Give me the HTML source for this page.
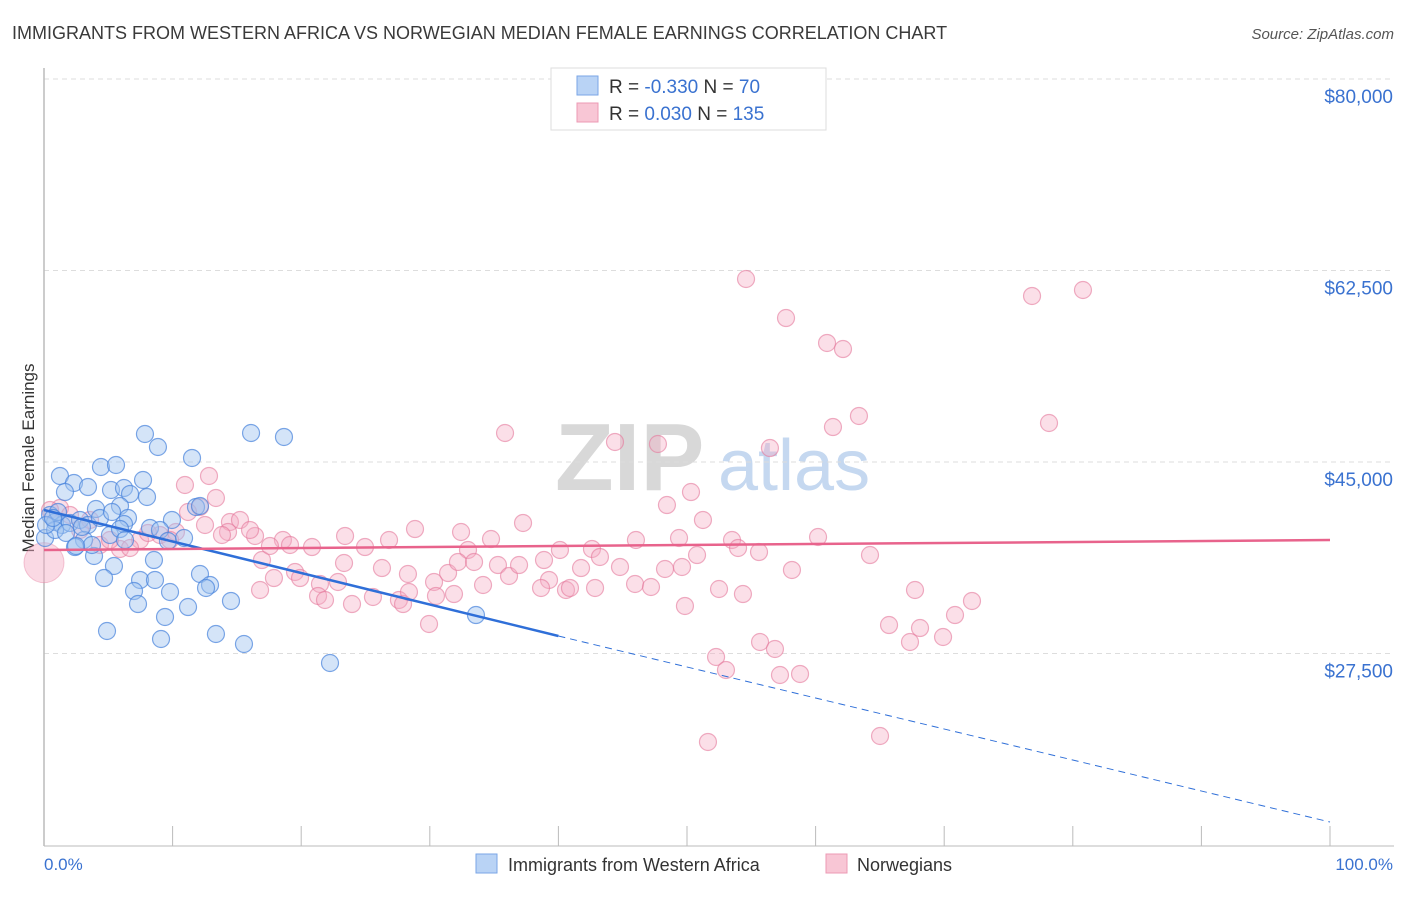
<!DOCTYPE html>
<html><head><meta charset="utf-8"><style>
body{margin:0;background:#fff;font-family:"Liberation Sans",sans-serif}
svg text{font-family:"Liberation Sans",sans-serif}
</style></head><body>
<svg id="chart" width="1406" height="892" xmlns="http://www.w3.org/2000/svg">
<text x="12" y="39" font-size="18" fill="#3a3a3a">IMMIGRANTS FROM WESTERN AFRICA VS NORWEGIAN MEDIAN FEMALE EARNINGS CORRELATION CHART</text>
<text x="1394" y="39" font-size="15" fill="#555" text-anchor="end" font-style="italic">Source: ZipAtlas.com</text>
<text x="555" y="490" font-size="96" fill="#d8d8d8" font-family="Liberation Serif" font-weight="bold">ZIP</text>
<text x="718" y="490" font-size="72" fill="#c5d8f0">atlas</text>
<g id="grid"></g>
<g id="ticks"></g>
<line x1="44" y1="68" x2="44" y2="846" stroke="#bbb" stroke-width="1.5"/>
<line x1="44" y1="846" x2="1394" y2="846" stroke="#bbb" stroke-width="1"/>
<text transform="translate(34,458) rotate(-90)" font-size="17" fill="#333" text-anchor="middle">Median Female Earnings</text>
<text x="44" y="870" font-size="17" fill="#3a72d0">0.0%</text>
<text x="1393" y="870" font-size="17" fill="#3a72d0" text-anchor="end">100.0%</text>
<g id="pink"></g>
<g id="blue"></g>
<g id="trends"></g>
<g>
<rect x="551" y="68" width="275" height="62" fill="#fff" stroke="#ddd"/>
<rect x="577" y="76" width="21" height="19" fill="#b9d3f5" stroke="#7aa6e6"/>
<rect x="577" y="103" width="21" height="19" fill="#f8c6d5" stroke="#ec9ab4"/>
<text x="609" y="93" font-size="19" fill="#333">R = <tspan fill="#3a72d0">-0.330</tspan>   N = <tspan fill="#3a72d0"> 70</tspan></text>
<text x="609" y="120" font-size="19" fill="#333">R = <tspan fill="#3a72d0"> 0.030</tspan>   N = <tspan fill="#3a72d0">135</tspan></text>
</g>
<g>
<rect x="476" y="854" width="21" height="19" fill="#b9d3f5" stroke="#7aa6e6"/>
<text x="508" y="871" font-size="18" fill="#333">Immigrants from Western Africa</text>
<rect x="826" y="854" width="21" height="19" fill="#f8c6d5" stroke="#ec9ab4"/>
<text x="857" y="871" font-size="18" fill="#333">Norwegians</text>
</g>
</svg>
<script>
const yTicks=[80000,62500,45000,27500];
const yTickLabels=["$80,000","$62,500","$45,000","$27,500"];
const xTicks=[0,10,20,30,40,50,60,70,80,90,100];
const bluePx=[[145,434],[158,447],[251,433],[284,437],[192,458],[101,467],[116,465],[60,476],[74,483],[88,487],[143,480],[111,490],[124,488],[130,494],[147,497],[65,492],[96,509],[120,506],[128,518],[172,520],[196,507],[50,515],[55,522],[62,525],[70,523],[80,520],[88,525],[100,518],[124,524],[150,528],[160,530],[168,541],[184,538],[110,535],[84,540],[94,556],[114,566],[154,560],[104,578],[140,580],[155,580],[200,574],[210,585],[134,591],[170,592],[138,604],[188,607],[231,601],[165,617],[107,631],[161,639],[216,634],[244,644],[330,663],[476,615],[200,506],[45,538],[55,530],[75,547],[92,545],[46,525],[58,512],[66,533],[53,518],[82,527],[76,546],[120,529],[112,512],[125,540],[206,588]];
const pinkPx=[[746,279],[786,318],[1032,296],[1083,290],[827,343],[843,349],[859,416],[833,427],[1049,423],[770,448],[505,433],[615,442],[658,444],[691,492],[667,505],[703,520],[523,523],[415,529],[209,476],[216,498],[200,507],[185,485],[188,512],[230,522],[240,520],[255,536],[262,560],[283,540],[312,547],[345,536],[365,547],[389,540],[461,532],[491,539],[468,550],[560,550],[592,549],[636,540],[679,538],[697,555],[732,540],[738,548],[759,552],[818,537],[870,555],[260,590],[274,578],[295,572],[300,578],[320,584],[338,582],[344,563],[382,568],[408,574],[434,582],[448,573],[458,562],[474,562],[498,565],[509,576],[519,565],[544,560],[549,580],[566,590],[581,568],[600,557],[620,567],[635,584],[651,587],[665,569],[682,567],[719,589],[743,594],[792,570],[318,596],[325,600],[352,604],[373,597],[399,600],[403,604],[409,592],[436,596],[454,594],[483,585],[541,588],[570,588],[595,588],[685,606],[429,624],[889,625],[915,590],[920,628],[910,642],[943,637],[955,615],[972,601],[760,642],[775,649],[716,657],[726,670],[780,675],[800,674],[708,742],[880,736],[250,530],[228,532],[160,535],[140,540],[120,549],[100,545],[80,530],[60,508],[50,510],[70,515],[90,520],[110,540],[130,548],[148,533],[176,532],[205,525],[222,535],[270,546],[290,545],[170,540]];
// convert reading to data values (percent, dollars)
const blueX=bluePx.map(p=>+((p[0]-44)/12.86).toFixed(2));
const blueY=bluePx.map(p=>Math.round(45000-(p[1]-462)*17500/191.5));
const pinkX=pinkPx.map(p=>+((p[0]-44)/12.86).toFixed(2));
const pinkY=pinkPx.map(p=>Math.round(45000-(p[1]-462)*17500/191.5));
const blueTrendX=[0,40,100];
const blueTrendY=[40614,29100,12100];
const pinkTrendX=[0,100];
const pinkTrendY=[36960,37870];

const NS="http://www.w3.org/2000/svg";
const xs=v=>44+v*12.86;
const ys=v=>462-(v-45000)*191.5/17500;
function mk(t,a,p){const e=document.createElementNS(NS,t);for(const k in a)e.setAttribute(k,a[k]);p.appendChild(e);return e;}
const grid=document.getElementById('grid');
yTicks.forEach((v,i)=>{
 const l=mk('line',{x1:44,x2:1394,y1:ys(v),y2:ys(v),stroke:'#ddd','stroke-dasharray':'5,4'},grid);
 
 
 const t=mk('text',{x:1393,y:ys(v)+24,'font-size':19,fill:'#3a72d0','text-anchor':'end'},grid);
 t.textContent=yTickLabels[i];
 
 
});
const tk=document.getElementById('ticks');
xTicks.forEach(v=>{
 const l=mk('line',{x1:xs(v),x2:xs(v),y1:826,y2:846,stroke:'#bbb'},tk);
 
 
});
const pg=document.getElementById('pink');
pinkX.forEach((x,i)=>{
 const c=mk('circle',{cx:xs(x),cy:ys(pinkY[i]),r:8.5,fill:'rgba(244,170,195,0.38)',stroke:'rgba(228,120,155,0.6)','stroke-width':1.2},pg);
 
 
});
const big=mk('circle',{cx:xs(0),cy:ys(35800),r:20,fill:'rgba(244,170,195,0.45)',stroke:'rgba(228,120,155,0.4)'},pg);


const bg=document.getElementById('blue');
blueX.forEach((x,i)=>{
 const c=mk('circle',{cx:xs(x),cy:ys(blueY[i]),r:8.5,fill:'rgba(160,195,240,0.45)',stroke:'rgba(70,130,220,0.7)','stroke-width':1.2},bg);
 
 
});
const tr=document.getElementById('trends');
const bs=mk('line',{x1:xs(blueTrendX[0]),y1:ys(blueTrendY[0]),x2:xs(blueTrendX[1]),y2:ys(blueTrendY[1]),stroke:'#2f6fd8','stroke-width':2.5},tr);


const bd=mk('line',{x1:xs(blueTrendX[1]),y1:ys(blueTrendY[1]),x2:xs(blueTrendX[2]),y2:ys(blueTrendY[2]),stroke:'#2f6fd8','stroke-width':1,'stroke-dasharray':'7,5'},tr);


const pl=mk('line',{x1:xs(pinkTrendX[0]),y1:ys(pinkTrendY[0]),x2:xs(pinkTrendX[1]),y2:ys(pinkTrendY[1]),stroke:'#e8638c','stroke-width':2.5},tr);


</script>
</body></html>
